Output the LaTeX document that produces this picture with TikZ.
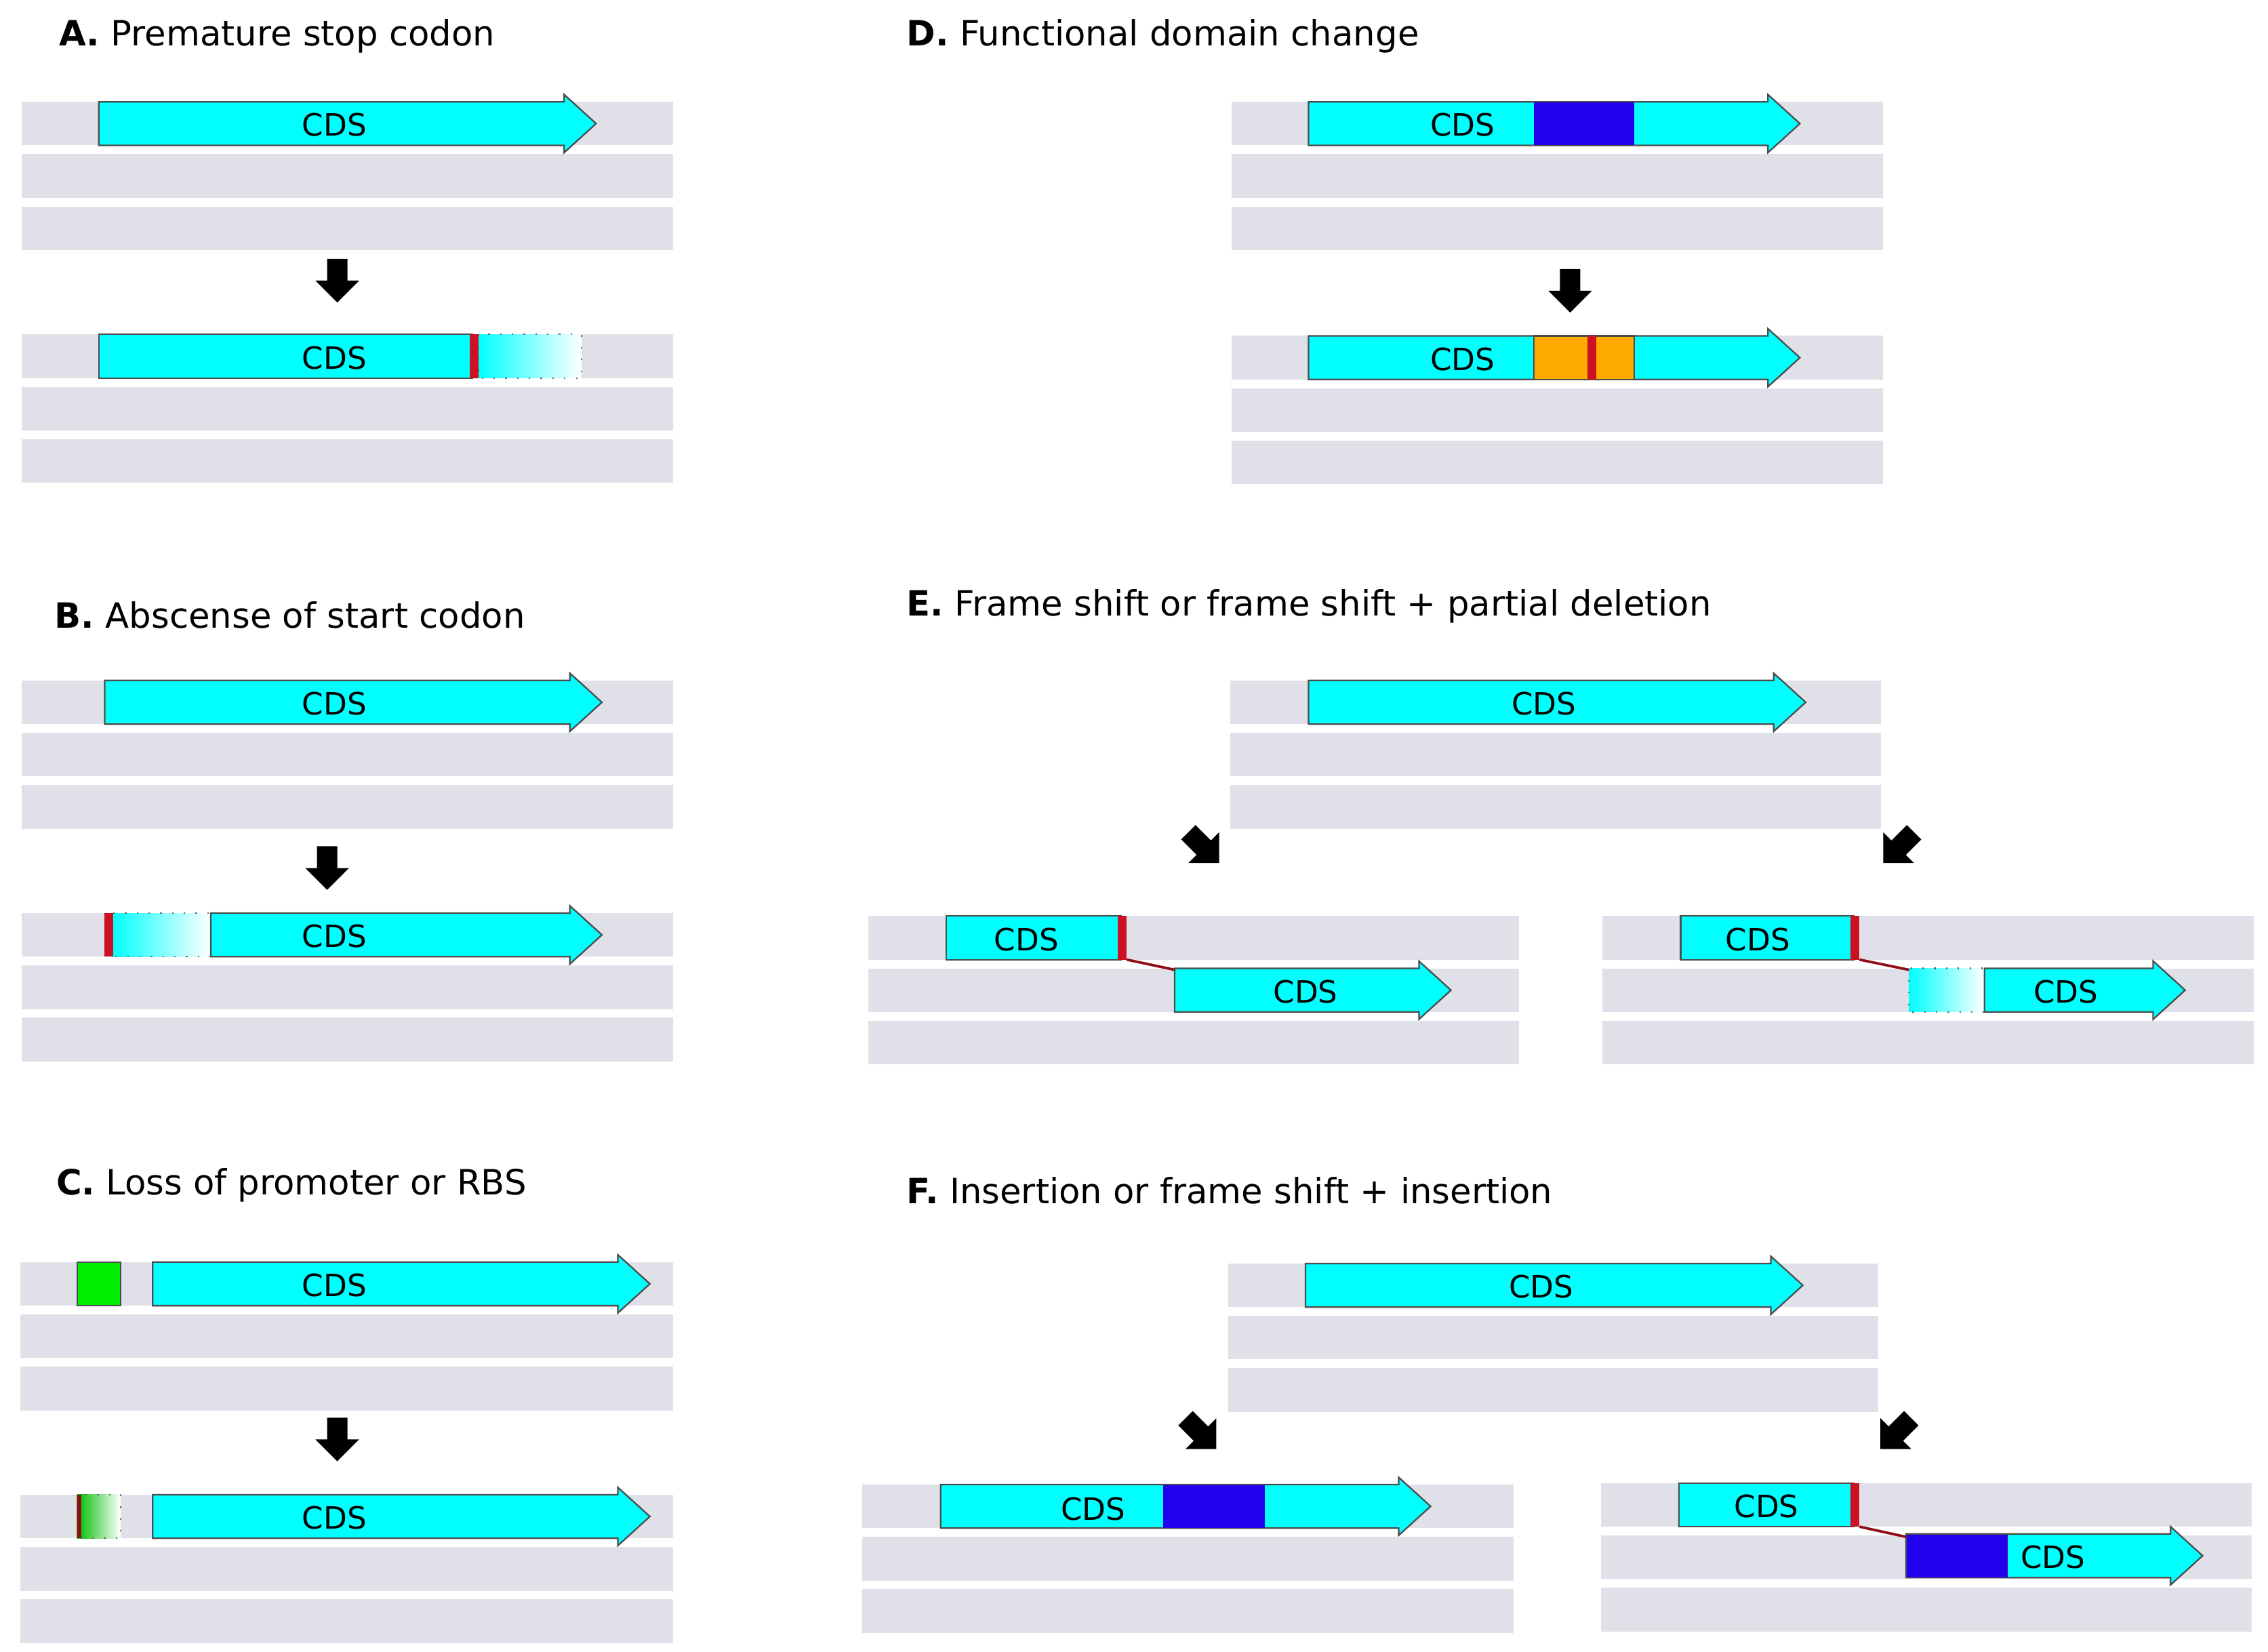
\documentclass[tikz,border=0pt]{standalone}
\usepackage{fontspec}
\setmainfont{DejaVu Sans}
\definecolor{trackgray}{HTML}{E0E0E8}
\definecolor{cdscyan}{HTML}{00FFFF}
\definecolor{domblue}{HTML}{2200EE}
\definecolor{domorange}{HTML}{FFAA00}
\definecolor{stopred}{HTML}{CC1122}
\definecolor{promgreen}{HTML}{00EE00}
\tikzset{
  cdsline/.style={fill=cdscyan, draw=black!70, line width=0.3pt},
  cdslabel/.style={font=\fontsize{6}{7}\selectfont, inner sep=0pt},
  paneltitle/.style={font=\fontsize{6.8}{8}\selectfont, anchor=west, inner sep=0pt},
  fade/.style={left color=cdscyan, right color=white, draw=black!60, dotted, line width=0.3pt},
  link/.style={draw=stopred!70!black, line width=0.5pt},
  pics/turn/.style={code={\fill[black] (-7,-15) -- (7,-15) -- (7,0) -- (15,0) -- (0,15) -- (-15,0) -- (-7,0) -- cycle;}}
}
\newcommand{\track}[3]{\foreach \k in {0,1,2} \fill[trackgray] (#1,#3+\k*36) rectangle (#2,#3+\k*36+30);}
\newcommand{\cdsarrow}[3]{\draw[cdsline] (#1,#3) -- (#2-22,#3) -- (#2-22,#3-5) -- (#2,#3+15) -- (#2-22,#3+35) -- (#2-22,#3+30) -- (#1,#3+30) -- cycle;}
\newcommand{\stopbar}[2]{\fill[stopred] (#1,#2) rectangle (#1+6,#2+30);}
\begin{document}
\begin{tikzpicture}[x=0.01cm,y=-0.01cm]
\useasboundingbox[fill=white] (0,0) rectangle (1560,1136);

% A
\node[paneltitle] (ta) at (40,25) {\textbf{A.} Premature stop codon};
\track{15}{463}{70}
\cdsarrow{68}{410}{70}
\node[cdslabel] (a1) at (230,86) {CDS};
\pic at (232,193) {turn};
\track{15}{463}{230}
\shade[fade] (329,230) rectangle (400,260);
\draw[cdsline] (68,230) rectangle (325,260);
\stopbar{323}{230}
\node[cdslabel] (a2) at (230,246) {CDS};

% B
\node[paneltitle] (tb) at (37,423) {\textbf{B.} Abscense of start codon};
\track{15}{463}{468}
\cdsarrow{72}{414}{468}
\node[cdslabel] (b1) at (230,484) {CDS};
\pic at (225,597) {turn};
\track{15}{463}{628}
\shade[fade] (77,628) rectangle (145,658);
\cdsarrow{145}{414}{628}
\stopbar{72}{628}
\node[cdslabel] (b2) at (230,644) {CDS};

% C
\node[paneltitle] (tc) at (38,815) {\textbf{C.} Loss of promoter or RBS};
\track{14}{463}{868}
\fill[promgreen, draw=black!70, line width=0.3pt] (53,868) rectangle (83,898);
\cdsarrow{105}{447}{868}
\node[cdslabel] (c1) at (230,884) {CDS};
\pic at (232,990) {turn};
\track{14}{463}{1028}
\shade[left color=promgreen!80!black, right color=white, draw=black!60, dotted, line width=0.3pt] (53,1028) rectangle (83,1058);
\fill[stopred!70!black] (53,1028) rectangle (56,1058);
\cdsarrow{105}{447}{1028}
\node[cdslabel] (c2) at (230,1044) {CDS};

% D
\node[paneltitle] (td) at (623,25) {\textbf{D.} Functional domain change};
\track{847}{1295}{70}
\cdsarrow{900}{1238}{70}
\fill[domblue] (1055,70.3) rectangle (1124,99.7);
\node[cdslabel] (d1) at (1006,86) {CDS};
\pic at (1080,200) {turn};
\track{847}{1295}{231}
\cdsarrow{900}{1238}{231}
\draw[fill=domorange, draw=black!70, line width=0.3pt] (1055,231) rectangle (1124,261);
\stopbar{1092}{231}
\node[cdslabel] (d2) at (1006,247) {CDS};

% E
\node[paneltitle] (te) at (623,417) {\textbf{E.} Frame shift or frame shift + partial deletion};
\track{846}{1294}{468}
\cdsarrow{900}{1242}{468}
\node[cdslabel] (e1) at (1062,484) {CDS};
\pic[rotate=45] at (828,583) {turn};
\pic[rotate=-45] at (1306,583) {turn};
\track{597}{1045}{630}
\draw[cdsline] (651,630) rectangle (771,660);
\stopbar{769}{630}
\coordinate (e2s) at (775,660);
\cdsarrow{808}{998}{666}
\coordinate (e2t) at (808,667);
\draw[link] (e2s) -- (e2t);
\node[cdslabel] (e2) at (706,646) {CDS};
\node[cdslabel] (e3) at (898,682) {CDS};
\track{1102}{1550}{630}
\draw[cdsline] (1156,630) rectangle (1275,660);
\stopbar{1273}{630}
\coordinate (e4s) at (1279,660);
\shade[fade] (1313,666) rectangle (1365,696);
\cdsarrow{1365}{1503}{666}
\coordinate (e4t) at (1313,667);
\draw[link] (e4s) -- (e4t);
\node[cdslabel] (e4) at (1209,646) {CDS};
\node[cdslabel] (e5) at (1421,682) {CDS};

% F
\node[paneltitle] (tf) at (623,819) {\textbf{F.} Insertion or frame shift + insertion};
\track{845}{1292}{869}
\cdsarrow{898}{1240}{869}
\node[cdslabel] (f1) at (1060,885) {CDS};
\pic[rotate=45] at (826,986) {turn};
\pic[rotate=-45] at (1304,986) {turn};
\track{593}{1041}{1021}
\cdsarrow{647}{984}{1021}
\fill[domblue] (800,1021.3) rectangle (870,1050.7);
\node[cdslabel] (f2) at (752,1038) {CDS};
\track{1101}{1549}{1020}
\draw[cdsline] (1155,1020) rectangle (1275,1050);
\stopbar{1273}{1020}
\coordinate (f3s) at (1279,1050);
\cdsarrow{1311}{1515}{1055}
\fill[domblue] (1311.3,1055.3) rectangle (1381,1084.7);
\coordinate (f3t) at (1311,1057);
\draw[link] (f3s) -- (f3t);
\node[cdslabel] (f3) at (1215,1036) {CDS};
\node[cdslabel] (f4) at (1412,1071) {CDS};
\end{tikzpicture}
\end{document}
